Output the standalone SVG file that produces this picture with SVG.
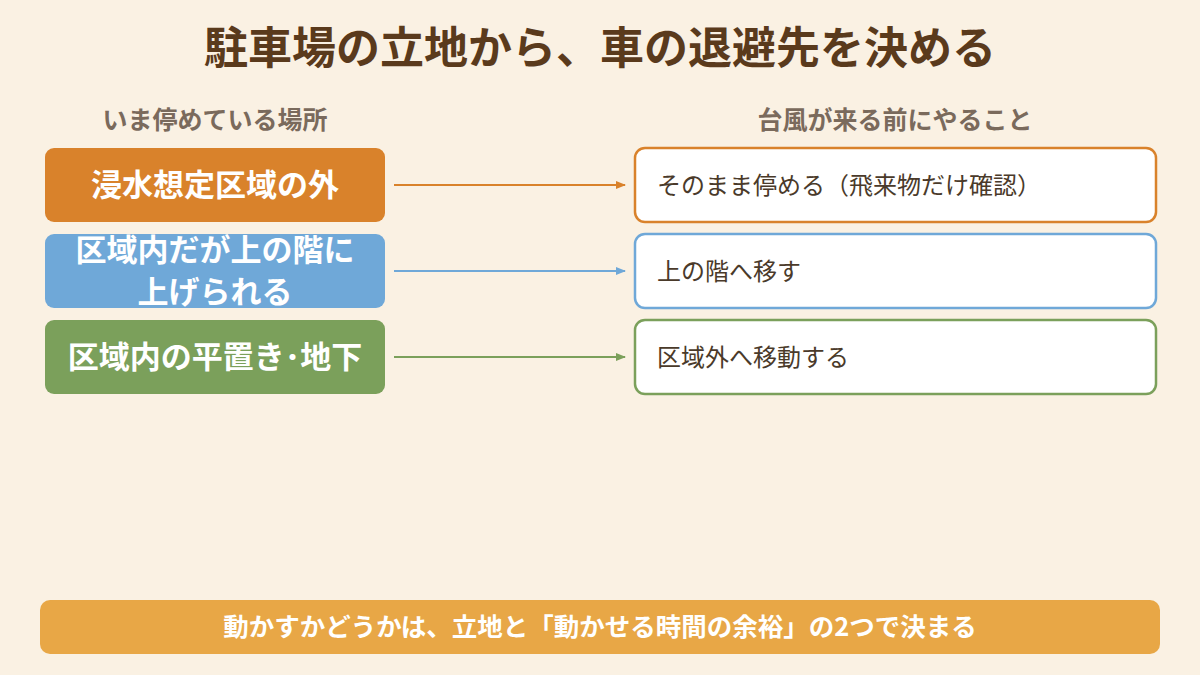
<svg xmlns="http://www.w3.org/2000/svg" width="1200" height="675" viewBox="0 0 1200 675">
<style>
text{font-family:"Noto Sans CJK JP","Noto Sans",sans-serif}
.t{font-size:44px;font-weight:bold;fill:#5a3a1c}
.h{font-size:25px;font-weight:bold;fill:#7a6a5c}
.l{font-size:31px;font-weight:bold;fill:#fff}
.r{font-size:24px;fill:#4a3a2a}
.rb{fill:#fff;stroke-width:2.5}
</style>
<defs>
<marker id="mo" markerWidth="10" markerHeight="10" refX="9" refY="5" orient="auto" markerUnits="userSpaceOnUse"><path d="M0,1 L10,5 L0,9z" fill="#d9822b"/></marker>
<marker id="mb" markerWidth="10" markerHeight="10" refX="9" refY="5" orient="auto" markerUnits="userSpaceOnUse"><path d="M0,1 L10,5 L0,9z" fill="#6fa8d8"/></marker>
<marker id="mg" markerWidth="10" markerHeight="10" refX="9" refY="5" orient="auto" markerUnits="userSpaceOnUse"><path d="M0,1 L10,5 L0,9z" fill="#7ba05b"/></marker>
</defs>
<rect width="1200" height="675" fill="#faf1e3"/>
<text class="t" x="600" y="64" text-anchor="middle">駐車場の立地から、車の退避先を決める</text>
<text class="h" x="215" y="129" text-anchor="middle">いま停めている場所</text>
<text class="h" x="895" y="129" text-anchor="middle">台風が来る前にやること</text>
<g id="n1"><rect x="45" y="148" width="340" height="74" rx="9" fill="#d9822b"/><text class="l" x="215" y="196" text-anchor="middle">浸水想定区域の外</text></g>
<g id="n2"><rect x="45" y="234" width="340" height="74" rx="9" fill="#6fa8d8"/><text class="l" x="215" y="261" font-size="30" text-anchor="middle">区域内だが上の階に</text><text class="l" x="215" y="303" font-size="30" text-anchor="middle">上げられる</text></g>
<g id="n3"><rect x="45" y="320" width="340" height="74" rx="9" fill="#7ba05b"/><text class="l" x="215" y="368" text-anchor="middle">区域内の平置き･地下</text></g>
<g id="r1"><rect class="rb" x="635" y="148" width="521" height="74" rx="10" stroke="#d9822b"/><text class="r" x="657" y="194">そのまま停める（飛来物だけ確認）</text></g>
<g id="r2"><rect class="rb" x="635" y="234" width="521" height="74" rx="10" stroke="#6fa8d8"/><text class="r" x="657" y="280">上の階へ移す</text></g>
<g id="r3"><rect class="rb" x="635" y="320" width="521" height="74" rx="10" stroke="#7ba05b"/><text class="r" x="657" y="366">区域外へ移動する</text></g>
<g id="connectors" stroke-width="2">
<line x1="394" y1="185" x2="625" y2="185" stroke="#d9822b" marker-end="url(#mo)"/>
<line x1="394" y1="271" x2="625" y2="271" stroke="#6fa8d8" marker-end="url(#mb)"/>
<line x1="394" y1="357" x2="625" y2="357" stroke="#7ba05b" marker-end="url(#mg)"/>
</g>
<g id="footer"><rect x="40" y="600" width="1120" height="54" rx="10" fill="#e8a746"/><text x="600" y="636" text-anchor="middle" font-size="25.5" font-weight="bold" fill="#fff">動かすかどうかは、立地と「動かせる時間の余裕」の2つで決まる</text></g>
</svg>
